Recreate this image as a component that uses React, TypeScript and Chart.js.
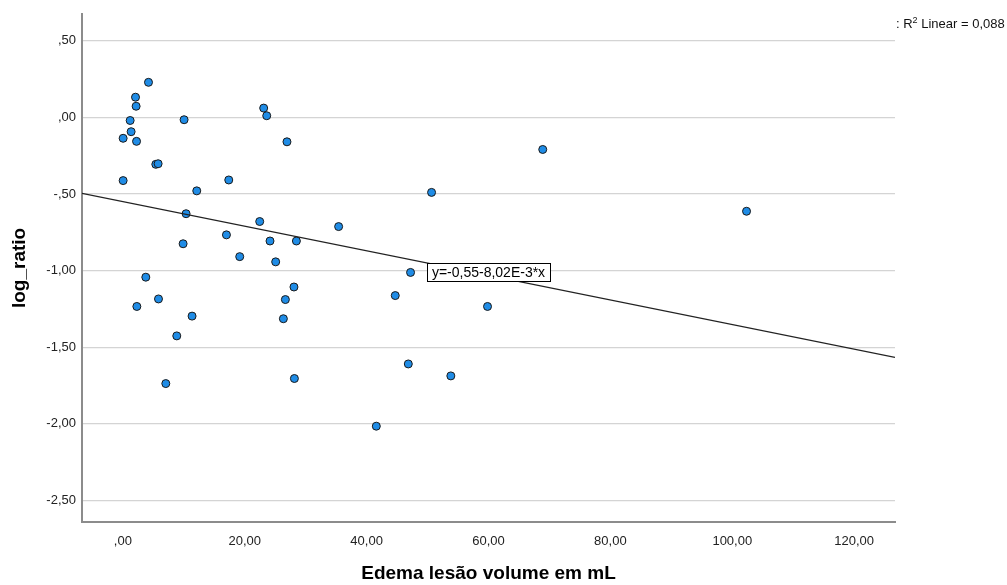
import React, { useEffect, useRef } from 'react';
import { Chart, registerables } from 'chart.js';
Chart.register(...registerables);

const edemaVolume = [4.21, 2.08, 2.18, 1.2, 10.05, 1.36, 0.05, 2.25, 5.41, 5.79, 0.05, 12.13, 10.38, 9.89, 3.77, 5.85, 2.3, 11.36, 8.85, 7.05, 23.11, 23.61, 26.93, 17.38, 22.46, 17.0, 24.15, 28.48, 19.18, 25.08, 28.08, 26.67, 26.34, 28.15, 50.66, 35.41, 47.21, 44.7, 59.84, 46.84, 53.82, 41.59, 68.9, 102.34];
const logRatio = [0.228, 0.131, 0.072, -0.021, -0.016, -0.094, -0.137, -0.157, -0.307, -0.303, -0.413, -0.48, -0.629, -0.825, -1.043, -1.185, -1.234, -1.297, -1.426, -1.737, 0.06, 0.01, -0.16, -0.409, -0.68, -0.767, -0.807, -0.807, -0.909, -0.943, -1.107, -1.189, -1.314, -1.704, -0.49, -0.713, -1.012, -1.163, -1.234, -1.609, -1.687, -2.015, -0.21, -0.613];

const intercept = -0.55;
const slope = -0.00802;
const xMin = -6.7;
const xMax = 126.7;
const yMin = -2.64;
const yMax = 0.675;
const xStep = 20;
const yStep = 0.5;
const eqText = 'y=-0,55-8,02E-3*x';
const eqLabelX = 60;
const r2Text = '0,088';
const xTitle = 'Edema lesão volume em mL';
const yTitle = 'log_ratio';

const FONT = 'Arial, "Liberation Sans", sans-serif';

function fmt(v: number): string {
  let s = Math.abs(v).toFixed(2).replace('.', ',');
  if (s.startsWith('0')) s = s.slice(1);
  return (v < -1e-9 ? '-' : '') + s;
}

const annotPlugin = {
  id: 'annot',
  afterDatasetsDraw(chart: any) {
    const ctx = chart.ctx as CanvasRenderingContext2D;
    const xs = chart.scales.x;
    const ys = chart.scales.y;
    const px = xs.getPixelForValue(eqLabelX);
    const py = ys.getPixelForValue(intercept + slope * eqLabelX) - 3;
    ctx.save();
    ctx.font = `14px ${FONT}`;
    const w = ctx.measureText(eqText).width + 10;
    const h = 18;
    ctx.fillStyle = '#ffffff';
    ctx.fillRect(Math.round(px - w / 2) + 0.5, Math.round(py - h / 2) + 0.5, Math.round(w), h);
    ctx.strokeStyle = '#000000';
    ctx.lineWidth = 1;
    ctx.strokeRect(Math.round(px - w / 2) + 0.5, Math.round(py - h / 2) + 0.5, Math.round(w), h);
    ctx.fillStyle = '#000000';
    ctx.textAlign = 'center';
    ctx.textBaseline = 'middle';
    ctx.fillText(eqText, px, py + 1);

    // R² label
    const ca = chart.chartArea;
    let x = ca.right + 1;
    const base = 28;
    ctx.textAlign = 'left';
    ctx.textBaseline = 'alphabetic';
    ctx.font = `13px ${FONT}`;
    ctx.fillStyle = '#111111';
    const p1 = ': R';
    ctx.fillText(p1, x, base);
    x += ctx.measureText(p1).width;
    ctx.font = `9px ${FONT}`;
    ctx.fillText('2', x, base - 5);
    x += ctx.measureText('2').width;
    ctx.font = `13px ${FONT}`;
    ctx.fillText(' Linear = ' + r2Text, x, base);
    ctx.restore();
  },
};

export default function App() {
  const ref = useRef<HTMLCanvasElement | null>(null);
  useEffect(() => {
    if (!ref.current) return;
    const points = edemaVolume.map((v, i) => ({ x: v, y: logRatio[i] }));
    const chart = new Chart(ref.current, {
      type: 'scatter',
      data: {
        datasets: [
          {
            type: 'line',
            label: 'fit',
            data: [
              { x: xMin, y: intercept + slope * xMin },
              { x: xMax, y: intercept + slope * xMax },
            ],
            borderColor: '#222222',
            borderWidth: 1.2,
            pointRadius: 0,
            fill: false,
            order: 0,
          } as any,
          {
            label: 'log_ratio',
            data: points,
            backgroundColor: '#1f8ce6',
            borderColor: '#1a1a1a',
            borderWidth: 1,
            pointRadius: 4,
            order: 1,
          },
        ],
      },
      options: {
        animation: false,
        responsive: false,
        layout: { padding: { left: 0, right: 112, top: 7, bottom: 0 } },
        plugins: { legend: { display: false }, tooltip: { enabled: false } },
        scales: {
          x: {
            type: 'linear',
            min: xMin,
            max: xMax,
            afterFit: (s: any) => { s.height = 63; },
            ticks: {
              stepSize: xStep,
              includeBounds: false,
              callback: (v: any) => fmt(Number(v)),
              font: { family: FONT, size: 13 },
              color: '#222222',
              padding: 12,
              maxRotation: 0,
            },
            grid: { display: false, drawTicks: false },
            border: { display: true, color: '#8c8c8c', width: 2 },
            title: {
              display: true,
              text: xTitle,
              font: { family: FONT, size: 19, weight: 'bold', lineHeight: 1.15 },
              color: '#000000',
              padding: { top: 0, bottom: 0 },
            },
          },
          y: {
            type: 'linear',
            min: yMin,
            max: yMax,
            afterFit: (s: any) => { s.width = 82; },
            ticks: {
              stepSize: yStep,
              includeBounds: false,
              callback: (v: any) => fmt(Number(v)),
              font: { family: FONT, size: 13 },
              color: '#222222',
              padding: 6,
            },
            grid: { color: '#d4d4d4', lineWidth: 1.3, drawTicks: false },
            border: { display: true, color: '#8c8c8c', width: 2 },
            title: {
              display: true,
              text: yTitle,
              font: { family: FONT, size: 19, weight: 'bold' },
              color: '#000000',
              padding: { top: 8, bottom: 0 },
            },
          },
        },
      },
      plugins: [annotPlugin],
    });
    return () => chart.destroy();
  }, []);
  return (
    <div style={{ position: 'absolute', left: 0, top: 0, width: 1007, height: 585, background: '#fff' }}>
      <canvas ref={ref} width={1007} height={585} style={{ display: 'block' }} />
    </div>
  );
}
